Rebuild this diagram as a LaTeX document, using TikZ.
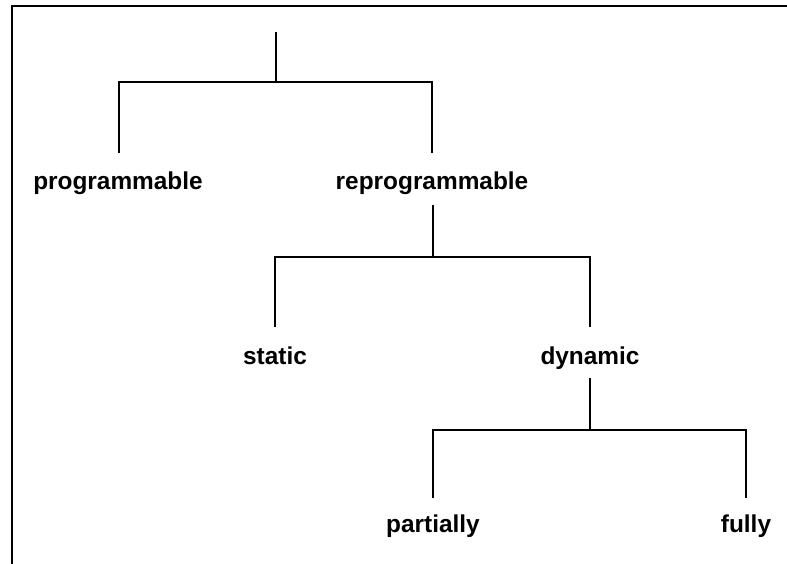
\documentclass[tikz,border=0pt]{standalone}
\usepackage{fontspec}
\setmainfont{Liberation Sans}
\begin{document}
\begin{tikzpicture}[x=1pt,y=-1pt,
  lbl/.style={font=\bfseries\fontsize{24.4}{27}\selectfont, inner sep=0pt, anchor=base},
  branch/.style={line width=1.2pt, black},
  frame/.style={line width=1.6pt, black}]
\useasboundingbox (0,0) rectangle (787,564);
% frame along the top and left edges
\draw[frame] (787,6) -- (12,6) -- (12,564);

% labels
\node[lbl] (prog)  at (118,190) {programmable};
\node[lbl] (reprog) at (432,190) {reprogrammable};
\node[lbl] (stat)  at (275,364) {static};
\node[lbl] (dyn)   at (590,364) {dynamic};
\node[lbl] (part)  at (433,532) {partially};
\node[lbl] (full)  at (746,532) {fully};

% branch points
\coordinate (top) at (276,32);
\coordinate (j1) at (276,82);
\coordinate (j2) at (433,257);
\coordinate (j3) at (590,430);

% first level
\draw[branch] (top) -- (j1);
\draw[branch] (119,153) -- (119,82) -- (432,82) -- (432,153);
% second level
\draw[branch] (433,205) -- (j2);
\draw[branch] (275,327) -- (275,257) -- (590,257) -- (590,327);
% third level
\draw[branch] (590,378) -- (j3);
\draw[branch] (433,498) -- (433,430) -- (746,430) -- (746,498);
\end{tikzpicture}
\end{document}
